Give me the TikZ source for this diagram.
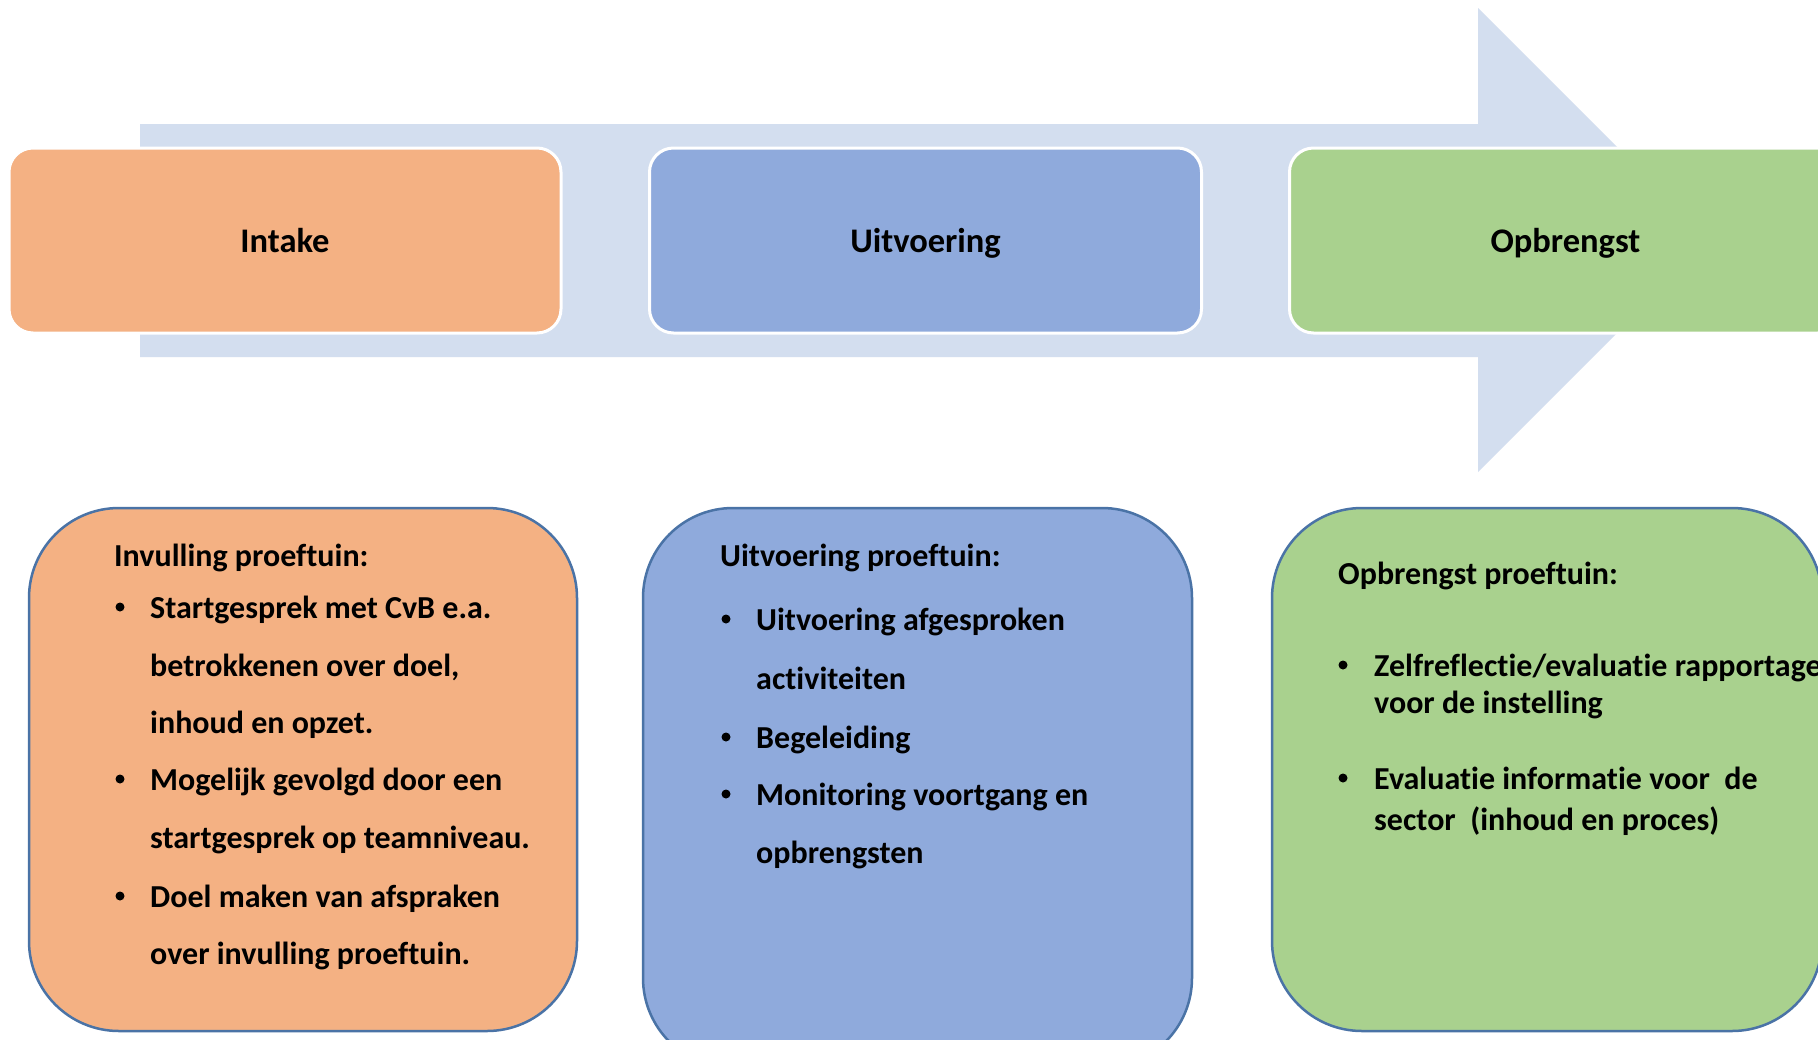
\documentclass[tikz,border=0pt]{standalone}
\usepackage{fontspec}
\setmainfont{Carlito}[Ligatures=NoCommon]
\definecolor{arrowc}{HTML}{D3DEEF}
\definecolor{orng}{HTML}{F4B183}
\definecolor{blu}{HTML}{8FAADC}
\definecolor{grn}{HTML}{A9D18E}
\definecolor{edgec}{HTML}{4A73A6}
\tikzset{
  topbox/.style={draw=white,line width=3pt,rounded corners=24pt,minimum width=552pt,minimum height=185pt,font=\fontsize{34.5}{40}\selectfont\bfseries,text=black,text depth=0pt},
  botbox/.style={draw=edgec,line width=2.5pt,rounded corners=90pt,minimum width=548pt},
  txt/.style={anchor=base west,inner sep=0pt,font=\fontsize{32}{38}\selectfont\bfseries,text=black},
  dot/.style={circle,fill=black,inner sep=0pt,minimum size=9pt},
}
\begin{document}
\begin{tikzpicture}[x=1pt,y=-1pt]
\clip (0,0) rectangle (1818,1039);
\fill[white] (0,0) rectangle (1818,1039);
% big background arrow
\fill[arrowc] (140,124) -- (1478,124) -- (1478,8) -- (1710,240) -- (1478,472) -- (1478,357) -- (140,357) -- cycle;
% top boxes
\node[topbox,fill=orng] (intake) at (285,240.5) {Intake};
\node[topbox,fill=blu] (uitv) at (925.5,240.5) {Uitvoering};
\node[topbox,fill=grn] (opbr) at (1565.5,240.5) {Opbrengst};
% bottom boxes
\node[botbox,fill=orng,minimum height=523pt] (b1) at (303,769.5) {};
\node[botbox,fill=blu,minimum height=560pt,minimum width=549pt] (b2) at (917.5,788) {};
\node[botbox,fill=grn,minimum height=523pt,minimum width=550pt] (b3) at (1547,769.5) {};
% orange text
\node[txt] (t1) at (114,566) {Invulling proeftuin:};
\node[dot] (t1b1) at (120,607) {};
\node[txt] (t1l1) at (150,618) {Startgesprek met CvB e.a.};
\node[txt] (t1l2) at (150,676) {betrokkenen over doel,};
\node[txt] (t1l3) at (150,733) {inhoud en opzet.};
\node[dot] (t1b2) at (120,779) {};
\node[txt] (t1l4) at (150,790) {Mogelijk gevolgd door een};
\node[txt] (t1l5) at (150,848) {startgesprek op teamniveau.};
\node[dot] (t1b3) at (120,896) {};
\node[txt] (t1l6) at (150,907) {Doel maken van afspraken};
\node[txt] (t1l7) at (150,964) {over invulling proeftuin.};
% blue text
\node[txt] (t2) at (720,566) {Uitvoering proeftuin:};
\node[dot] (t2b1) at (726,619) {};
\node[txt] (t2l1) at (756,630) {Uitvoering afgesproken};
\node[txt] (t2l2) at (756,689) {activiteiten};
\node[dot] (t2b2) at (726,737) {};
\node[txt] (t2l3) at (756,748) {Begeleiding};
\node[dot] (t2b3) at (726,794) {};
\node[txt] (t2l4) at (756,805) {Monitoring voortgang en};
\node[txt] (t2l5) at (756,863) {opbrengsten};
% green text
\node[txt] (t3) at (1338,584) {Opbrengst proeftuin:};
\node[dot] (t3b1) at (1343,665) {};
\node[txt] (t3l1) at (1374,676) {Zelfreflectie/evaluatie rapportage};
\node[txt] (t3l2) at (1374,713) {voor de instelling};
\node[dot] (t3b2) at (1343,778) {};
\node[txt] (t3l3) at (1374,789) {Evaluatie informatie voor\ \ de};
\node[txt] (t3l4) at (1374,830) {sector\ \ (inhoud en proces)};
\end{tikzpicture}
\end{document}
